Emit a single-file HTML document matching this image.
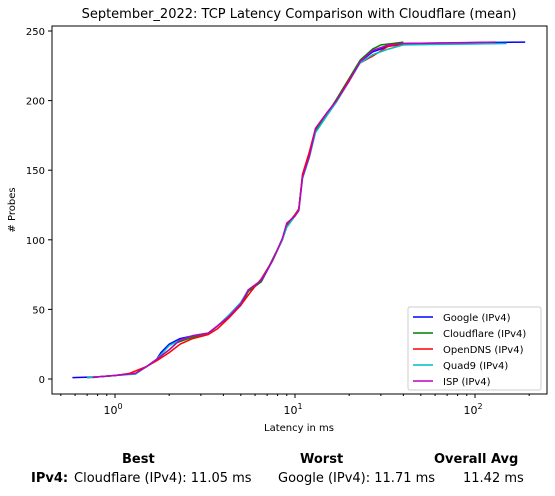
<!DOCTYPE html>
<html><head><meta charset="utf-8"><style>
body{margin:0;background:#fff;font-family:"DejaVu Sans","Liberation Sans",sans-serif;}
#wrap{position:relative;width:555px;height:496px;overflow:hidden}
svg text{font-family:"DejaVu Sans","Liberation Sans",sans-serif}
.t{position:absolute;font-size:13px;color:#000;white-space:nowrap;font-family:"DejaVu Sans","Liberation Sans",sans-serif}
</style></head><body><div id="wrap">
<svg id="chart" width="555" height="440"></svg>
<div class="t" style="left:122px;top:452px;font-weight:bold">Best</div>
<div class="t" style="left:300px;top:452px;font-weight:bold">Worst</div>
<div class="t" style="left:434px;top:452px;font-weight:bold">Overall Avg</div>
<div class="t" style="left:31px;top:471px;font-weight:bold">IPv4:</div>
<div class="t" style="left:74px;top:471px">Cloudflare (IPv4): 11.05 ms</div>
<div class="t" style="left:278px;top:471px">Google (IPv4): 11.71 ms</div>
<div class="t" style="left:463px;top:471px">11.42 ms</div>
</div>
<script>
const seriesNames=["Google (IPv4)","Cloudflare (IPv4)","OpenDNS (IPv4)","Quad9 (IPv4)","ISP (IPv4)"];
const seriesColors=["#0000ff","#008000","#ff0000","#00bfbf","#bf00bf"];
const googleLat=[0.58,0.8,1.0,1.3,1.5,1.7,1.8,2.0,2.3,2.7,3.3,3.7,4.3,5,5.5,6.5,7.5,8.5,9,10,10.5,11,12,13,15,17,20,23,27,33,40,190];
const googleCnt=[1,1.5,2.5,4,9,14,19,25,29,31,33,38,45,53,63,70,85,100,110,118,122,145,160,178,190,200,215,228,235,239,241,242];
const cloudLat=[0.7,0.8,1.0,1.3,1.5,1.7,2.0,2.2,2.7,3.3,3.7,4.3,5,5.5,6.5,7.5,8.5,9,10,10.5,11,12,13,15,17,20,23,27,30,35,40];
const cloudCnt=[1,1.5,2.5,4,9,14,21,26,30,33,38,45,53,63,70,86,100,110,118,122,146,161,179,190,201,216,229,237,240,241,242];
const opendnsLat=[0.7,0.8,1.0,1.2,1.5,1.7,2.0,2.3,2.7,3.3,3.7,4.3,5,5.7,6.5,7.5,8.5,9,10,10.5,11,12,13,15,17,20,23,27,33,47];
const opendnsCnt=[1,1.5,2.5,4,9,13,19,25,29,32,36,44,53,63,72,85,100,111,118,122,147,163,180,191,200,215,227,232,239,241];
const quad9Lat=[0.7,0.8,1.0,1.3,1.5,1.7,2.0,2.3,2.7,3.3,3.7,4.3,5,5.5,6.5,7.5,8.5,9,10,10.5,11,12,13,15,17,20,23,27,33,40,150];
const quad9Cnt=[1,1.5,2.5,3.5,9,14,24,28,31,33,38,46,55,64,71,85,100,109,117,121,144,159,177,189,199,214,227,233,237,240,241];
const ispLat=[0.75,0.8,1.0,1.3,1.5,1.7,2.0,2.3,2.7,3.3,3.7,4.3,5,5.5,6.5,7.5,8.5,9,10,10.5,11,12,13,15,17,20,23,27,33,40,130];
const ispCnt=[1,1.5,2.5,4,9,14,21,28,31,33,38,45,54,64,71,85,101,112,117,121,145,160,180,191,200,214,228,236,240,241,242];
const seriesLat=[googleLat,cloudLat,opendnsLat,quad9Lat,ispLat];
const seriesCnt=[googleCnt,cloudCnt,opendnsCnt,quad9Cnt,ispCnt];
const yTicks=[0,50,100,150,200,250];
const xTickExp=[0,1,2];

const NS="http://www.w3.org/2000/svg";
const svg=document.getElementById('chart');
const L=52,R=547,T=26,B=394;
function xs(v){return 115+180*Math.log10(v);}
function ys(v){return 379-v*1.392;}
function mk(tag,attrs,parent){const e=document.createElementNS(NS,tag);for(const k in attrs)e.setAttribute(k,attrs[k]);(parent||svg).appendChild(e);return e;}

const title=mk('text',{x:299,y:18,'text-anchor':'middle','font-size':13});


title.textContent="September_2022: TCP Latency Comparison with Cloudflare (mean)";

const clip=mk('clipPath',{id:'c'});mk('rect',{x:L,y:T,width:R-L,height:B-T},clip);
const lines=mk('g',{'clip-path':'url(#c)'});


seriesLat.forEach((lat,i)=>{
  const d=lat.map((v,j)=>(j?'L':'M')+xs(v).toFixed(1)+','+ys(seriesCnt[i][j]).toFixed(1)).join(' ');
  const p=mk('path',{d:d,fill:'none',stroke:seriesColors[i],'stroke-width':1.5,'stroke-linejoin':'round'},lines);
  
  
});

const frame=mk('rect',{x:L,y:T,width:R-L,height:B-T,fill:'none',stroke:'#000','stroke-width':1});



yTicks.forEach(v=>{
  const y=ys(v);
  mk('line',{x1:L-4,x2:L,y1:y,y2:y,stroke:'#000'});
  const t=mk('text',{x:L-7,y:y+4,'text-anchor':'end','font-size':10});
  
  
  t.textContent=v;
});
xTickExp.forEach(e=>{
  const x=xs(Math.pow(10,e));
  mk('line',{x1:x,x2:x,y1:B,y2:B+4,stroke:'#000'});
  const t=mk('text',{x:x-2,y:B+20,'text-anchor':'middle','font-size':11});
  
  
  t.textContent='10';
  const s=mk('tspan',{dy:-5,'font-size':8});s.textContent=e;t.appendChild(s);
});
for(let e=-1;e<=2;e++)for(let m=2;m<=9;m++){
  const x=xs(m*Math.pow(10,e));
  if(x>L&&x<R)mk('line',{x1:x,x2:x,y1:B,y2:B+2,stroke:'#000'});
}
const xl=mk('text',{x:299,y:431,'text-anchor':'middle','font-size':10});


xl.textContent='Latency in ms';
const yl=mk('text',{x:15,y:210,'text-anchor':'middle','font-size':10,transform:'rotate(-90 15 210)'});


yl.textContent='# Probes';

const lg=mk('g',{});


mk('rect',{x:408,y:307,width:133,height:83,fill:'#fff',stroke:'#ccc',rx:2},lg);
seriesNames.forEach((n,i)=>{
  const y=317+i*16;
  mk('line',{x1:413,x2:433,y1:y,y2:y,stroke:seriesColors[i],'stroke-width':1.5},lg);
  const t=mk('text',{x:443,y:y+4,'font-size':10},lg);
  
  
  t.textContent=n;
});
</script></body></html>
